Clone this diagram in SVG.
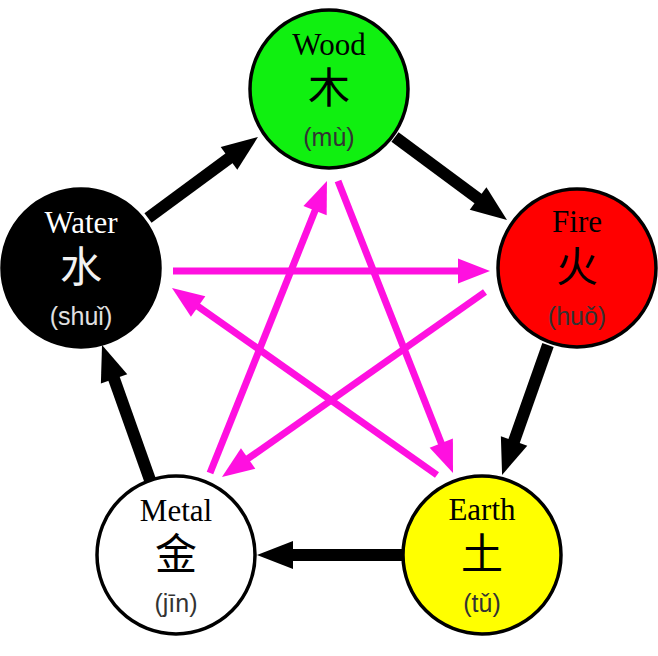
<svg xmlns="http://www.w3.org/2000/svg" width="658" height="656" viewBox="0 0 658 656">
<style>
.node{stroke:#000;stroke-width:3.5}
.en{font-family:"Liberation Serif","Times New Roman",serif;font-size:31px;text-anchor:middle}
.zh{font-family:"Noto Sans CJK SC","Noto Sans CJK TC",sans-serif;font-size:42px;text-anchor:middle}
.py{font-family:"Liberation Sans",Arial,sans-serif;font-size:25px;text-anchor:middle;fill:#333}
.gen{stroke:#000;stroke-width:12;fill:none;marker-end:url(#hb)}
.ctl{stroke:#ff10e0;stroke-width:7;fill:none;marker-end:url(#hp)}
</style>
<defs>
<marker id="hb" markerUnits="userSpaceOnUse" markerWidth="36" markerHeight="28" refX="2" refY="14" orient="auto" overflow="visible">
<path d="M0,0 L36,14 L0,28 Z" fill="#000"/>
</marker>
<marker id="hp" markerUnits="userSpaceOnUse" markerWidth="32" markerHeight="25" refX="2" refY="12.5" orient="auto" overflow="visible">
<path d="M0,0 L32,12.5 L0,25 Z" fill="#ff10e0"/>
</marker>
</defs>
<g id="connectors">
<line class="gen" x1="148" y1="218" x2="230.6" y2="157.2"/>
<line class="gen" x1="395" y1="137" x2="479.7" y2="199.8"/>
<line class="gen" x1="548" y1="345" x2="513.4" y2="442.9"/>
<line class="gen" x1="404" y1="555" x2="291" y2="555"/>
<line class="gen" x1="150" y1="480" x2="113.4" y2="377"/>
<line class="ctl" x1="173" y1="271" x2="460" y2="271"/>
<line class="ctl" x1="485" y1="292" x2="246.5" y2="459.7"/>
<line class="ctl" x1="437" y1="475" x2="196.5" y2="305.3"/>
<line class="ctl" x1="210" y1="473" x2="315.8" y2="208.8"/>
<line class="ctl" x1="338" y1="181" x2="442" y2="445"/>
</g>
<g id="wood">
<circle class="node" cx="329" cy="89" r="79" fill="#10f010"/>
<text class="en" x="329" y="55">Wood</text>
<text class="zh" x="329" y="103">木</text>
<text class="py" x="329" y="146">(mù)</text>
</g>
<g id="fire">
<circle class="node" cx="577" cy="268" r="79" fill="#ff0000"/>
<text class="en" x="577" y="232">Fire</text>
<text class="zh" x="577" y="282">火</text>
<text class="py" x="577" y="325">(huǒ)</text>
</g>
<g id="earth">
<circle class="node" cx="482" cy="555" r="79" fill="#ffff00"/>
<text class="en" x="482" y="520">Earth</text>
<text class="zh" x="482" y="569">土</text>
<text class="py" x="482" y="612">(tǔ)</text>
</g>
<g id="metal">
<circle class="node" cx="176" cy="555" r="79" fill="#ffffff"/>
<text class="en" x="176" y="521">Metal</text>
<text class="zh" x="176" y="569">金</text>
<text class="py" x="176" y="612">(jīn)</text>
</g>
<g id="water">
<circle class="node" cx="81" cy="268" r="79" fill="#000000"/>
<text class="en" x="81" y="233" style="fill:#fff">Water</text>
<text class="zh" x="81" y="282" style="fill:#f2f2f2">水</text>
<text class="py" x="81" y="325" style="fill:#e0e0e0">(shuǐ)</text>
</g>
</svg>
